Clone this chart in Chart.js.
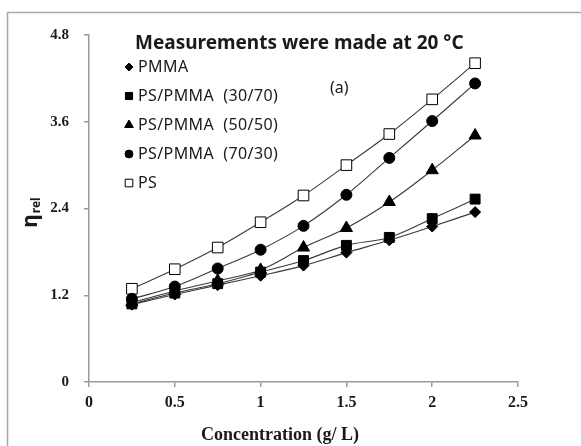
<!DOCTYPE html>
<html>
<head>
<meta charset="utf-8">
<script src="https://cdn.jsdelivr.net/npm/chart.js@4.4.1/dist/chart.umd.min.js"></script>
<style>
  body { margin: 0; background: #fff; }
  #wrap { width: 581px; height: 446px; }
</style>
</head>
<body>
<div id="wrap"><canvas id="chart"></canvas></div>
<script>
// concentration (g/L) at which each viscosity was measured
var concentration = [0.25, 0.5, 0.75, 1, 1.25, 1.5, 1.75, 2, 2.25];

var seriesNames = ['PMMA', 'PS/PMMA  (30/70)', 'PS/PMMA  (50/50)', 'PS/PMMA  (70/30)', 'PS'];

// relative viscosity
var pmma   = [1.07, 1.21, 1.34, 1.47, 1.61, 1.79, 1.96, 2.15, 2.35];
var ps3070 = [1.08, 1.23, 1.36, 1.52, 1.68, 1.89, 2.00, 2.26, 2.53];
var ps5050 = [1.10, 1.26, 1.40, 1.55, 1.86, 2.13, 2.49, 2.93, 3.41];
var ps7030 = [1.15, 1.32, 1.57, 1.83, 2.16, 2.59, 3.10, 3.61, 4.13];
var ps     = [1.29, 1.56, 1.86, 2.21, 2.58, 3.00, 3.43, 3.91, 4.41];

var xTickLabels = ['0', '0.5', '1', '1.5', '2', '2.5'];
var yTickLabels = ['0', '1.2', '2.4', '3.6', '4.8'];

var chartTitle = 'Measurements were made at 20 \u00B0C';
var panelLabel = '(a)';
var xTitle = 'Concentration (g/ L)';
var yTitleMain = '\u03B7';
var yTitleSub = 'rel';

var seriesValues = [pmma, ps3070, ps5050, ps7030, ps];
var markers = [
  { style: 'rectRot',  radius: 5.5, fill: '#000' },
  { style: 'rect',     radius: 7,   fill: '#000' },
  { style: 'triangle', radius: 7,   fill: '#000' },
  { style: 'circle',   radius: 5.5, fill: '#000' },
  { style: 'rect',     radius: 7.5, fill: '#fff' }
];

var axisGray = '#9a9a9a';
var sans = '"Noto Sans", "Liberation Sans", sans-serif';
var serif = '"Liberation Serif", "Times New Roman", serif';

var datasets = seriesValues.map(function (vals, i) {
  return {
    label: seriesNames[i],
    data: concentration.map(function (c, j) { return { x: c, y: vals[j] }; }),
    borderColor: '#3a3a3a',
    borderWidth: 1.1,
    tension: 0.35,
    pointStyle: markers[i].style,
    pointRadius: markers[i].radius,
    pointBackgroundColor: markers[i].fill,
    pointBorderColor: '#000',
    pointBorderWidth: 1,
    fill: false
  };
});

// frame, titles and legend sitting inside the plot
var decorations = {
  id: 'decorations',
  beforeDraw: function (chart) {
    var ctx = chart.ctx;
    ctx.save();
    ctx.fillStyle = '#fff';
    ctx.fillRect(0, 0, chart.width, chart.height);
    ctx.strokeStyle = '#a8a8a8';
    ctx.lineWidth = 1.5;
    ctx.beginPath();
    ctx.moveTo(7.5, chart.height);
    ctx.lineTo(7.5, 12.5);
    ctx.lineTo(chart.width, 12.5);
    ctx.stroke();
    ctx.restore();
  },
  afterDraw: function (chart) {
    var ctx = chart.ctx;
    var area = chart.chartArea;
    ctx.save();
    ctx.fillStyle = '#1a1a1a';
    ctx.textBaseline = 'middle';
    ctx.textAlign = 'left';

    ctx.font = 'bold 19px ' + sans;
    ctx.fillText(chartTitle, area.left + 46, area.top + 9);

    ctx.font = '16px ' + sans;
    ctx.fillText(panelLabel, area.left + 241, area.top + 53);

    // legend
    ctx.letterSpacing = '0.4px';
    for (var i = 0; i < seriesNames.length; i++) {
      var y = area.top + 32 + i * 29;
      var m = markers[i];
      ctx.fillStyle = m.fill;
      ctx.strokeStyle = '#000';
      ctx.lineWidth = 1;
      Chart.helpers.drawPoint(ctx, { pointStyle: m.style, radius: m.radius * 0.72, rotation: 0, borderWidth: 1 }, area.left + 40, y);
      ctx.fillStyle = '#1a1a1a';
      ctx.font = '16px ' + sans;
      ctx.fillText(seriesNames[i], area.left + 49, y);
    }
    ctx.letterSpacing = '0px';

    // x axis title
    ctx.font = 'bold 18px ' + serif;
    ctx.textAlign = 'center';
    ctx.fillText(xTitle, 280, 435);

    // y axis title with subscript
    ctx.translate(33, 213);
    ctx.rotate(-Math.PI / 2);
    ctx.font = 'bold 21px ' + sans;
    var wMain = ctx.measureText(yTitleMain).width;
    ctx.font = 'bold 12px ' + sans;
    var wSub = ctx.measureText(yTitleSub).width;
    var x0 = -(wMain + wSub) / 2;
    ctx.textAlign = 'left';
    ctx.font = 'bold 21px ' + sans;
    ctx.fillText(yTitleMain, x0, -2);
    ctx.font = 'bold 12px ' + sans;
    ctx.fillText(yTitleSub, x0 + wMain + 1, 4);
    ctx.restore();
  }
};

new Chart(document.getElementById('chart'), {
  type: 'line',
  data: { datasets: datasets },
  options: {
    responsive: true,
    maintainAspectRatio: false,
    animation: false,
    layout: { padding: { top: 35, right: 63, left: 0, bottom: 0 } },
    plugins: {
      legend: { display: false },
      title: { display: false },
      tooltip: { enabled: false }
    },
    scales: {
      x: {
        type: 'linear',
        min: 0,
        max: 2.5,
        afterFit: function (s) { s.height = 64; },
        border: { color: axisGray, width: 1.5 },
        grid: { drawOnChartArea: false, color: axisGray, tickLength: 5, lineWidth: 1.5 },
        ticks: {
          stepSize: 0.5,
          padding: 6,
          color: '#1a1a1a',
          font: { family: serif, size: 16, weight: 'bold' },
          callback: function (v, i) { return xTickLabels[i]; }
        }
      },
      y: {
        min: 0,
        max: 4.8,
        afterFit: function (s) { s.width = 89; },
        border: { color: axisGray, width: 1.5 },
        grid: { drawOnChartArea: false, color: axisGray, tickLength: 5, lineWidth: 1.5 },
        ticks: {
          stepSize: 1.2,
          padding: 15,
          color: '#1a1a1a',
          font: { family: serif, size: 15, weight: 'bold' },
          callback: function (v, i) { return yTickLabels[i]; }
        }
      }
    }
  },
  plugins: [decorations]
});
</script>
</body>
</html>
